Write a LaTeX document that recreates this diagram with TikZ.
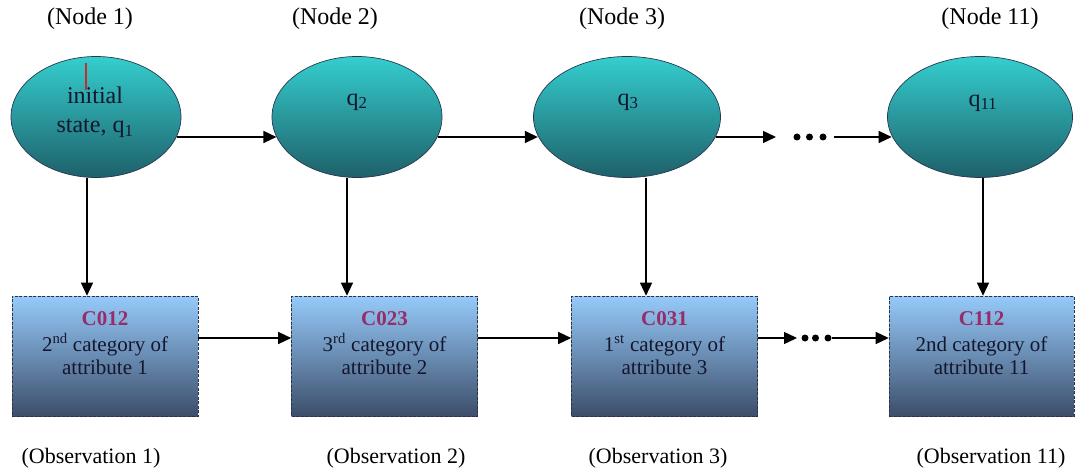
\documentclass[tikz,border=0pt]{standalone}
\usepackage{fontspec}
\setmainfont{Liberation Serif}
\usetikzlibrary{arrows.meta,shapes.geometric,calc}

\definecolor{tealtop}{RGB}{52,206,206}
\definecolor{tealbot}{RGB}{30,96,106}
\definecolor{tealedge}{RGB}{40,55,80}
\definecolor{boxtop}{RGB}{150,202,250}
\definecolor{boxbot}{RGB}{60,78,106}
\definecolor{boxedge}{RGB}{45,50,70}
\definecolor{codecol}{RGB}{150,45,105}
\definecolor{inktext}{RGB}{20,22,45}
\definecolor{cursor}{RGB}{195,45,45}

\tikzset{
  state/.style={ellipse, draw=tealedge, line width=0.7pt,
    top color=tealtop, bottom color=tealbot, inner sep=0pt,
    minimum width=170pt, minimum height=121pt},
  obsbox/.style={rectangle, draw=boxedge, line width=0.6pt,
    dash pattern=on 3pt off 1.5pt,
    top color=boxtop, bottom color=boxbot, inner sep=0pt,
    minimum width=186pt, minimum height=120pt},
  arr/.style={-{Triangle[length=13pt,width=12pt]}, line width=1.4pt, black},
  dot/.style={circle, fill=black, inner sep=0pt, minimum size=7pt},
  statetxt/.style={font=\rmfamily\fontsize{24}{29}\selectfont, text=inktext, align=center, inner sep=0pt},
  boxtxt/.style={font=\rmfamily\fontsize{21}{23}\selectfont, text=inktext, align=center, inner sep=0pt},
  toplabel/.style={font=\rmfamily\fontsize{24}{28}\selectfont, inner sep=0pt},
  botlabel/.style={font=\rmfamily\fontsize{22}{26}\selectfont, inner sep=0pt},
}

\begin{document}
\begin{tikzpicture}[x=1pt,y=-1pt]
  \useasboundingbox (0,0) rectangle (1075,470);

  % hidden states
  \node[state] (e1) at (96,117) {};
  \node[state] (e2) at (357,117) {};
  \node[state, minimum width=187pt] (e3) at (627,117) {};
  \node[state, minimum width=185pt] (e11) at (980,117) {};

  \node[statetxt] (s1) at (95,112) {initial\\state, q\textsubscript{1}};
  \draw[cursor, line width=1.2pt] (86,63) -- (86,90);
  \node[statetxt] (s2) at (357,102) {q\textsubscript{2}};
  \node[statetxt] (s3) at (628,102) {q\textsubscript{3}};
  \node[statetxt] (s11) at (983,103) {q\textsubscript{11}};

  % observation boxes
  \node[obsbox] (b1) at (105,356) {};
  \node[obsbox] (b2) at (384.5,356) {};
  \node[obsbox] (b3) at (664.5,356) {};
  \node[obsbox, minimum width=185pt] (b11) at (981.5,356) {};

  \node[boxtxt] (t1) at (105,343) {\textcolor{codecol}{\textbf{C012}}\\[3pt]2\textsuperscript{nd} category of\\attribute 1};
  \node[boxtxt] (t2) at (384.5,343) {\textcolor{codecol}{\textbf{C023}}\\[3pt]3\textsuperscript{rd} category of\\attribute 2};
  \node[boxtxt] (t3) at (664.5,343) {\textcolor{codecol}{\textbf{C031}}\\[3pt]1\textsuperscript{st} category of\\attribute 3};
  \node[boxtxt] (t11) at (981.5,343) {\textcolor{codecol}{\textbf{C112}}\\[3pt]2nd category of\\attribute 11};

  % labels
  \node[toplabel] (n1) at (90,19) {(Node 1)};
  \node[toplabel] (n2) at (335,19) {(Node 2)};
  \node[toplabel] (n3) at (622,19) {(Node 3)};
  \node[toplabel] (n11) at (990,19) {(Node 11)};

  \node[botlabel] (o1) at (91,458) {(Observation 1)};
  \node[botlabel] (o2) at (396,458) {(Observation 2)};
  \node[botlabel] (o3) at (658,458) {(Observation 3)};
  \node[botlabel] (o11) at (991,458) {(Observation 11)};

  % transitions between states, all on one row
  \coordinate (tq) at (776,137);
  \draw[arr] (e1.-14.1 |- tq) -- (e2.194.1 |- tq);
  \draw[arr] (e2.-14.1 |- tq) -- (e3.192.8 |- tq);
  \draw[arr] (e3.-12.8 |- tq) -- (tq);
  \node[dot] (dq1) at (797,137) {};
  \node[dot] (dq2) at (809.5,137) {};
  \node[dot] (dq3) at (823,137) {};
  \draw[arr, shorten <=7pt] (dq3) -- (e11.192.9 |- dq3);

  % emissions
  \draw[arr] ([xshift=-9pt]e1.south) -- ([xshift=-9pt]e1.south |- b1.north);
  \draw[arr] ([xshift=-10pt]e2.south) -- ([xshift=-10pt]e2.south |- b2.north);
  \draw[arr] ([xshift=19pt]e3.south) -- ([xshift=19pt]e3.south |- b3.north);
  \draw[arr] ([xshift=3pt]e11.south) -- ([xshift=3pt]e11.south |- b11.north);

  % sequence of observations
  \draw[arr] ([yshift=18pt]b1.east) -- ([yshift=18pt]b2.west);
  \draw[arr] ([yshift=18pt]b2.east) -- ([yshift=18pt]b3.west);
  \coordinate (tb) at (797,338);
  \draw[arr] ([yshift=18pt]b3.east) -- (tb);
  \node[dot] (db1) at (805,338) {};
  \node[dot] (db2) at (815.5,338) {};
  \node[dot] (db3) at (828,338) {};
  \draw[arr] (db3) -- ([yshift=18pt]b11.west);
\end{tikzpicture}
\end{document}
